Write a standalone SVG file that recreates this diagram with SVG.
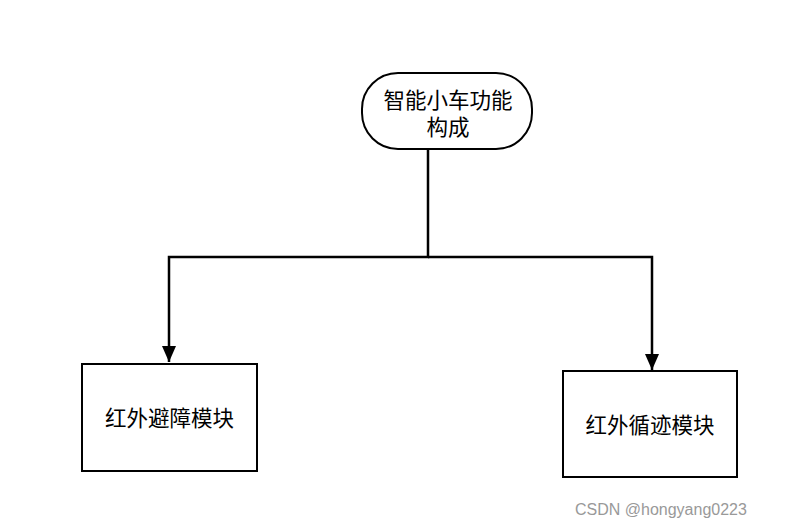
<svg xmlns="http://www.w3.org/2000/svg" width="792" height="528" viewBox="0 0 792 528">
<style>
.n{fill:#fff;stroke:#000;stroke-width:2}
.t{font-family:"Liberation Sans","Noto Sans CJK SC",sans-serif;font-size:21.5px;fill:#000;text-anchor:middle}
.c{fill:none;stroke:#000;stroke-width:2.5}
</style>
<defs>
<marker id="b" markerWidth="14" markerHeight="16" refX="7" refY="16" orient="0" markerUnits="userSpaceOnUse" viewBox="0 0 14 16"><path d="M0,0 L14,0 L7,16 Z" fill="#000"/></marker></defs>
<rect width="792" height="528" fill="#fff"/>
<g id="connectors">
<path class="c" d="M428,149 V257 H169 V362" marker-end="url(#b)"/>
<path class="c" d="M428,257 H652 V370" marker-end="url(#b)"/>
</g>
<g id="root"><rect class="n" x="362" y="73" width="170" height="76" rx="36"/>
<text class="t" x="448" y="108">智能小车功能</text><text class="t" x="448" y="135">构成</text></g>
<g id="left"><rect class="n" x="82" y="364" width="175" height="107"/><text class="t" x="169.5" y="426">红外避障模块</text></g>
<g id="right"><rect class="n" x="563" y="371" width="174" height="106"/><text class="t" x="650" y="433">红外循迹模块</text></g>
<text x="575" y="515" style="font-family:'Liberation Sans',sans-serif;font-size:16px;fill:#999">CSDN @hongyang0223</text>
</svg>
